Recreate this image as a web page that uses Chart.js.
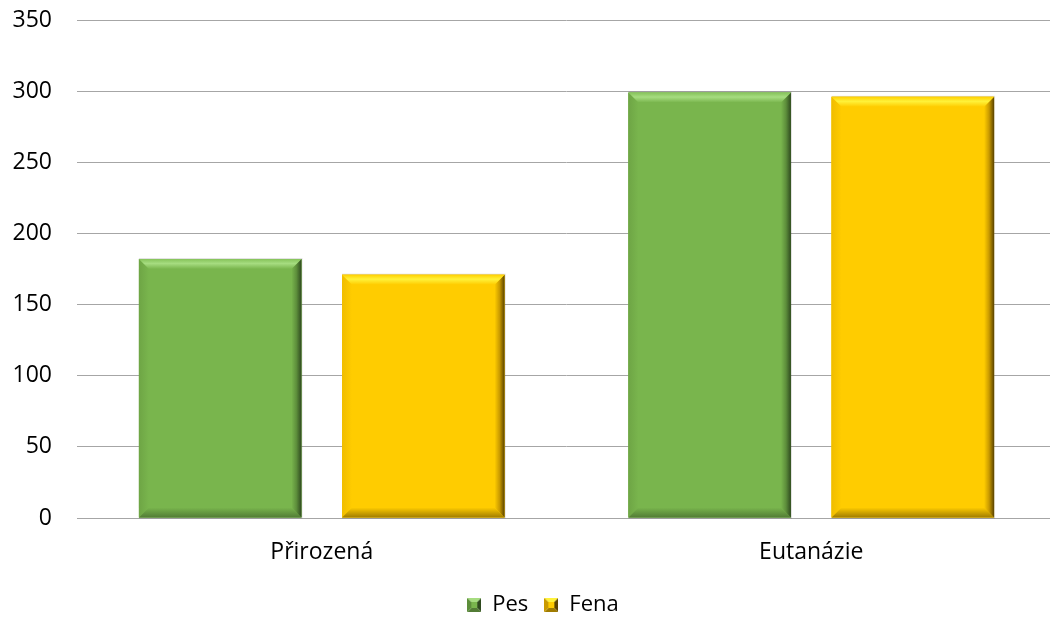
<!DOCTYPE html>
<html>
<head>
<meta charset="utf-8">
<script src="https://cdn.jsdelivr.net/npm/chart.js@4/dist/chart.umd.min.js"></script>
<style>
  html, body { margin: 0; padding: 0; background: #ffffff; overflow: hidden; }
  #wrap { position: absolute; left: 0; top: 0; width: 1056px; height: 626px; }
</style>
</head>
<body>
<div id="wrap"><canvas id="chart"></canvas></div>
<script>
// Categories and series values
const categories = ['Přirozená', 'Eutanázie'];
const pesValues = [182, 299];
const fenaValues = [171, 296];
const seriesNames = ['Pes', 'Fena'];
const yTicks = [0, 50, 100, 150, 200, 250, 300, 350];

const FONT = '"Open Sans", "Noto Sans", sans-serif';

// Bevel shading palettes per series
const palettes = [
  { base: '#79b54d', light: '#a6dc80', lightEdge: '#86c35a', dark: '#2f4a1f', darkMid: '#5d8e3b', bottom: '#527c35', left: '#6ea545' },
  { base: '#ffcc00', light: '#fff23a', lightEdge: '#ffd000', dark: '#5a4300', darkMid: '#c99a00', bottom: '#a07c00', left: '#f0bd00' }
];

function poly(ctx, pts, fill) {
  ctx.beginPath();
  ctx.moveTo(pts[0][0], pts[0][1]);
  for (let i = 1; i < pts.length; i++) ctx.lineTo(pts[i][0], pts[i][1]);
  ctx.closePath();
  ctx.fillStyle = fill;
  ctx.fill();
}

function drawBevel(ctx, l, t, r, b, p, bw) {
  // face
  ctx.fillStyle = p.base;
  ctx.fillRect(l, t, r - l, b - t);
  // left edge
  let g = ctx.createLinearGradient(l, 0, l + bw, 0);
  g.addColorStop(0, p.left);
  g.addColorStop(1, p.base);
  poly(ctx, [[l, t], [l + bw, t + bw], [l + bw, b - bw], [l, b]], g);
  // bottom edge
  g = ctx.createLinearGradient(0, b - bw, 0, b);
  g.addColorStop(0, p.base);
  g.addColorStop(1, p.bottom);
  poly(ctx, [[l, b], [l + bw, b - bw], [r - bw, b - bw], [r, b]], g);
  // right edge
  g = ctx.createLinearGradient(r - bw, 0, r, 0);
  g.addColorStop(0, p.base);
  g.addColorStop(0.5, p.darkMid);
  g.addColorStop(1, p.dark);
  poly(ctx, [[r, t], [r, b], [r - bw, b - bw], [r - bw, t + bw]], g);
  // top edge
  g = ctx.createLinearGradient(0, t, 0, t + bw);
  g.addColorStop(0, p.lightEdge);
  g.addColorStop(0.45, p.light);
  g.addColorStop(1, p.base);
  poly(ctx, [[l, t], [r, t], [r - bw, t + bw], [l + bw, t + bw]], g);
}

// Legend marker: small beveled square
function legendMarker(p) {
  const c = document.createElement('canvas');
  c.width = 14; c.height = 14;
  const x = c.getContext('2d');
  poly(x, [[0, 0], [14, 0], [7, 7]], p.light);
  poly(x, [[14, 0], [14, 14], [7, 7]], p.dark);
  poly(x, [[0, 14], [14, 14], [7, 7]], p.bottom);
  poly(x, [[0, 0], [0, 14], [7, 7]], p.darkMid);
  x.fillStyle = p.base;
  x.fillRect(4, 4, 6, 6);
  return c;
}

const bevelPlugin = {
  id: 'bevelBars',
  afterDatasetsDraw(chart) {
    const ctx = chart.ctx;
    ctx.save();
    chart.data.datasets.forEach((ds, di) => {
      const meta = chart.getDatasetMeta(di);
      if (meta.hidden) return;
      meta.data.forEach(bar => {
        const { x, y, base, width } = bar.getProps(['x', 'y', 'base', 'width'], true);
        const l = x - width / 2, r = x + width / 2;
        const t = Math.min(y, base), b = Math.max(y, base);
        // faint outer shadow
        ctx.fillStyle = 'rgba(0,0,0,0.12)';
        ctx.fillRect(l, t - 1, r - l + 1, b - t + 2);
        drawBevel(ctx, l, t, r, b, palettes[di], 10);
      });
    });
    ctx.restore();
  }
};

// Nudge the legend box slightly right of the canvas centre
const legendShift = {
  id: 'legendShift',
  afterLayout(chart) {
    if (chart.legend) { chart.legend.left += 12; chart.legend.right += 12; }
  }
};

const chart = new Chart(document.getElementById('chart'), {
  type: 'bar',
  data: {
    labels: categories,
    datasets: [
      { label: seriesNames[0], data: pesValues, backgroundColor: palettes[0].base, pointStyle: legendMarker(palettes[0]) },
      { label: seriesNames[1], data: fenaValues, backgroundColor: palettes[1].base, pointStyle: legendMarker(palettes[1]) }
    ]
  },
  options: {
    responsive: true,
    maintainAspectRatio: false,
    animation: false,
    datasets: { bar: { categoryPercentage: 0.83, barPercentage: 0.8 } },
    layout: { padding: { top: 20, left: 6, right: 0, bottom: 0 } },
    plugins: {
      tooltip: { enabled: false },
      legend: {
        position: 'bottom',
        labels: {
          usePointStyle: true,
          font: { family: FONT, size: 22 },
          color: '#000000',
          padding: 16,
          boxWidth: 14,
          boxHeight: 14
        }
      }
    },
    scales: {
      x: {
        grid: { display: false, drawTicks: false },
        border: { display: true, color: '#a6a6a6', width: 1 },
        ticks: { font: { family: FONT, size: 23 }, color: '#000000', padding: 21 },
        afterFit: axis => { axis.height = 60; }
      },
      y: {
        min: 0,
        max: 350,
        afterBuildTicks: axis => { axis.ticks = yTicks.map(v => ({ value: v })); },
        grid: { color: '#a6a6a6', lineWidth: 1, drawTicks: false },
        border: { display: false },
        ticks: { font: { family: FONT, size: 23 }, color: '#000000', padding: 25 },
        afterFit: axis => { axis.width = 71; axis.paddingTop = 0; axis.paddingBottom = 0; }
      }
    }
  },
  plugins: [bevelPlugin, legendShift]
});
</script>
</body>
</html>
